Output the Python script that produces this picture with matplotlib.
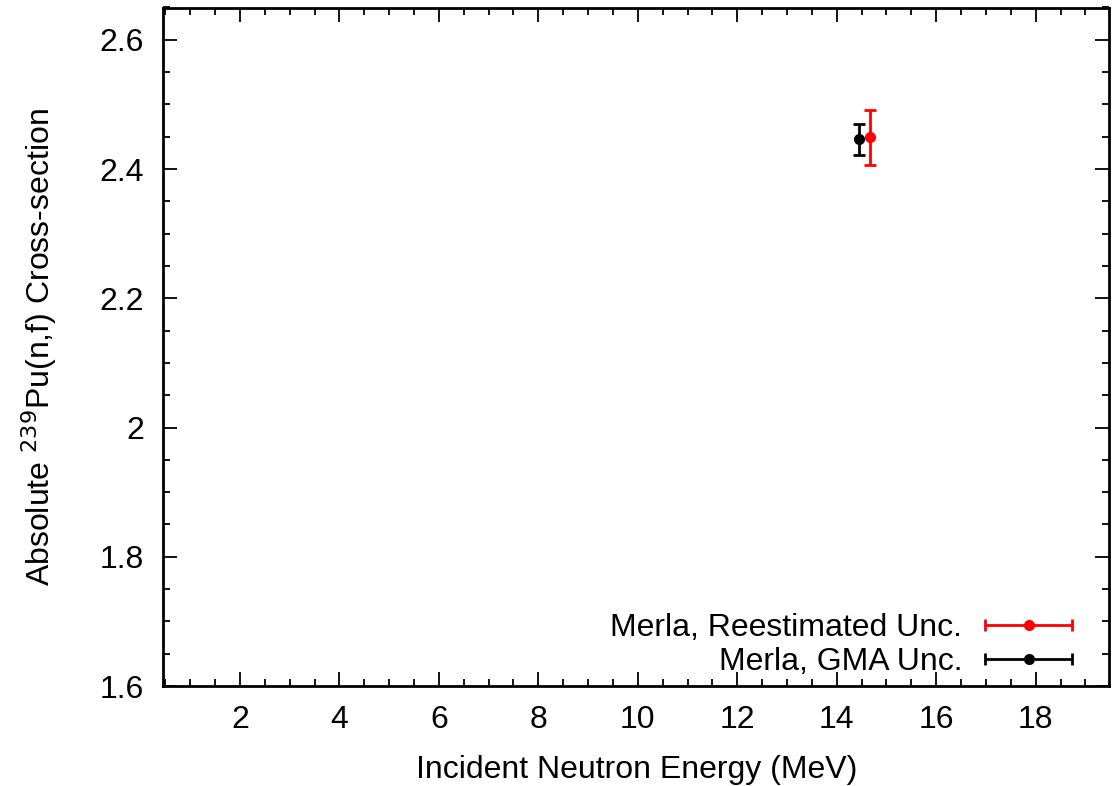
import matplotlib
matplotlib.use("Agg")
import matplotlib.pyplot as plt
from matplotlib.ticker import MultipleLocator, FuncFormatter
from matplotlib.legend_handler import HandlerErrorbar

plt.rcParams['font.family'] = ['Liberation Sans', 'DejaVu Sans']

# data
labels = ["Merla, Reestimated Unc.", "Merla, GMA Unc."]
energies = [14.67, 14.45]
xs_values = [2.449, 2.446]
xs_errors = [0.042, 0.024]
colors = ["#ff0000", "#000000"]

fig = plt.figure(figsize=(11.15, 7.86), dpi=100)
L, R, B, T = 163.3, 1109.3, 686, 7.5
ax = fig.add_axes([L / 1115, (786 - B) / 786, (R - L) / 1115, (B - T) / 786])

FS = 23
handles = []
for e, v, err, c, lab in zip(energies, xs_values, xs_errors, colors, labels):
    ax.errorbar([e], [v], yerr=[err], fmt='o', color=c, ms=7, elinewidth=2,
                capsize=4, capthick=2)
    # proxy for the legend (horizontal bar as gnuplot draws)
    h = ax.errorbar([-100], [-100], xerr=[1], fmt='o', color=c, ms=7, lw=2,
                    elinewidth=2, capsize=4, capthick=2, label=lab)
    handles.append(h)

ax.set_xlim(0.46, 19.48)
ax.set_ylim(1.6, 2.65)
ax.xaxis.set_major_locator(MultipleLocator(2))
ax.xaxis.set_minor_locator(MultipleLocator(0.5))
ax.yaxis.set_major_locator(MultipleLocator(0.2))
ax.yaxis.set_minor_locator(MultipleLocator(0.05))
ax.xaxis.set_major_formatter(FuncFormatter(lambda v, p: f"{v:g}"))
ax.yaxis.set_major_formatter(FuncFormatter(lambda v, p: f"{v:g}"))
ax.tick_params(which='both', direction='in', top=True, right=True, labelsize=FS, width=1.3)
ax.tick_params(which='major', length=10, pad=14)
ax.tick_params(which='minor', length=5)
for s in ax.spines.values():
    s.set_linewidth(2)

ax.set_xlabel("Incident Neutron Energy (MeV)", fontsize=FS, labelpad=14)
ax.set_ylabel("Absolute $^{239}$Pu(n,f) Cross-section", fontsize=FS, labelpad=29)

ax.legend(handles=handles, labels=labels, loc='lower right', frameon=False,
          bbox_to_anchor=(0.9746, -0.0063),
          fontsize=FS, markerfirst=False, handlelength=2.75, handletextpad=0.7,
          labelspacing=0.15, borderaxespad=0.0, borderpad=0.4,
          handler_map={type(handles[0]): HandlerErrorbar(xerr_size=1.375)})

fig.savefig("out.png", dpi=100)
